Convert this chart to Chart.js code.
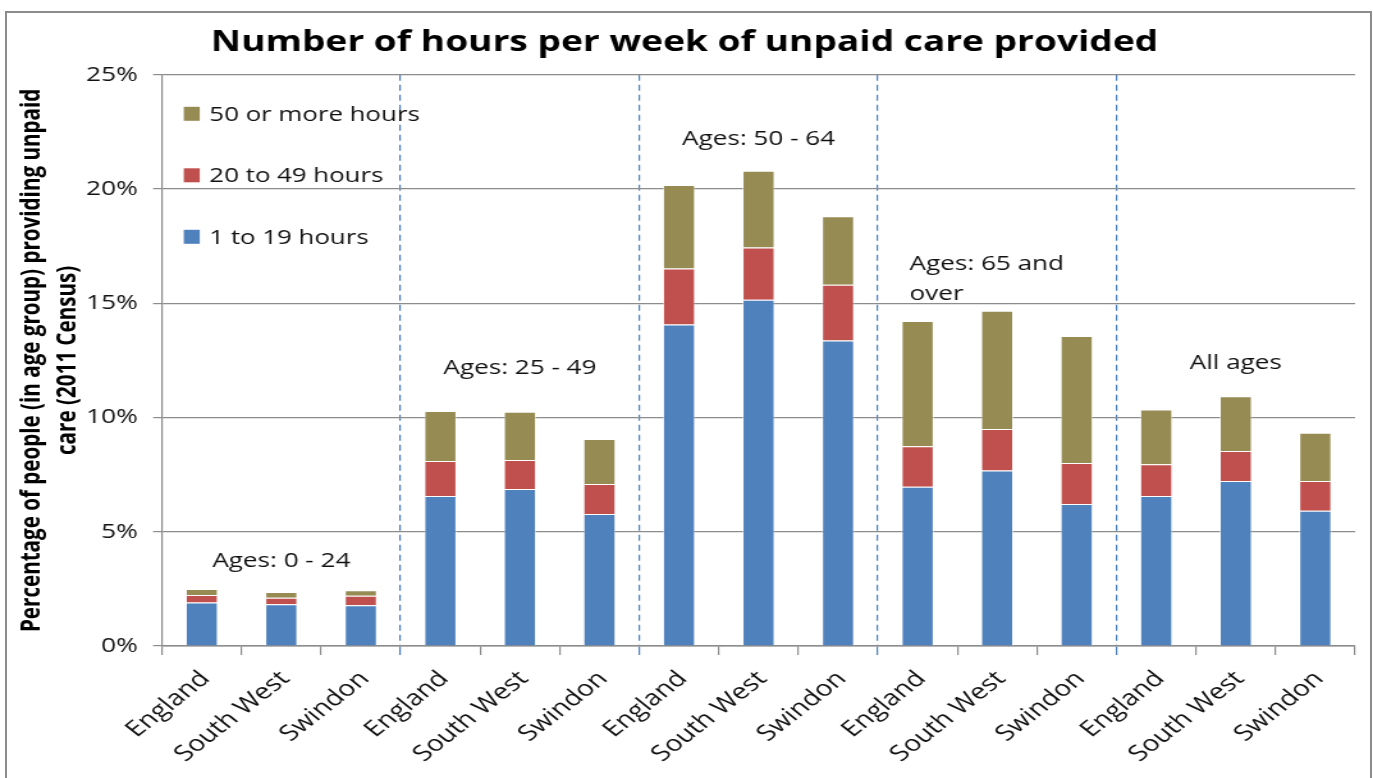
<!DOCTYPE html>
<html>
<head>
<meta charset="utf-8">
<script src="https://cdn.jsdelivr.net/npm/chart.js@4.4.1/dist/chart.umd.min.js"></script>
<style>
  html, body { margin: 0; padding: 0; background: #fff; overflow: hidden; }
  #frame { position: absolute; left: 5px; top: 11px; width: 1367px; height: 790px; border: 2px solid #8c8c8c; box-sizing: border-box; }
  /* the original picture is stretched sideways, so the canvas is drawn narrow and widened by css */
  #chart { position: absolute; left: 0; top: 0; width: 1373px !important; height: 778px !important; }
</style>
</head>
<body>
<div id="frame"></div>
<canvas id="chart" width="1073" height="778"></canvas>
<script>
// categories and values (percent of age group)
const categories = ['England', 'South West', 'Swindon', 'England', 'South West', 'Swindon',
  'England', 'South West', 'Swindon', 'England', 'South West', 'Swindon',
  'England', 'South West', 'Swindon'];
const hours1to19 = [1.90, 1.83, 1.78, 6.57, 6.87, 5.78, 14.07, 15.15, 13.37, 6.97, 7.68, 6.22, 6.57, 7.22, 5.92];
const hours20to49 = [0.33, 0.28, 0.42, 1.53, 1.27, 1.31, 2.45, 2.29, 2.44, 1.77, 1.82, 1.79, 1.39, 1.32, 1.30];
const hours50plus = [0.27, 0.25, 0.24, 2.19, 2.11, 1.97, 3.66, 3.36, 3.00, 5.48, 5.17, 5.56, 2.39, 2.39, 2.11];
const yTicks = [0, 5, 10, 15, 20, 25];
const groupLabels = [['Ages: 0 - 24'], ['Ages: 25 - 49'], ['Ages: 50 - 64'], ['Ages: 65 and', 'over'], ['All ages']];

// where each group caption sits (category index, percent)
const captionX = [1, 4, 7, 9.87, 13];
const captionY = [3.72, 12.17, 22.2, 16.72, 12.39];

const FONT = '"Open Sans", "DejaVu Sans", sans-serif';
const separators = [3, 6, 9, 12];

// group captions and the in-plot legend
const overlay = {
  id: 'overlay',
  afterDatasetsDraw(chart) {
    const { ctx, chartArea, scales: { x, y } } = chart;
    ctx.save();
    ctx.font = '20.4px ' + FONT;
    ctx.textBaseline = 'middle';
    ctx.textAlign = 'left';
    ctx.fillStyle = '#111';
    groupLabels.forEach((lines, g) => {
      const cx = x.getPixelForValue(captionX[g]);
      const w = Math.max(...lines.map(l => ctx.measureText(l).width));
      const ty = y.getPixelForValue(captionY[g]);
      lines.forEach((l, k) => ctx.fillText(l, cx - w / 2, ty + k * 30));
    });
    ctx.font = '20.2px ' + FONT;
    chart.data.datasets.slice().reverse().forEach((ds, k) => {
      const ty = chartArea.top + 39 + k * 61.5;
      ctx.fillStyle = ds.backgroundColor;
      ctx.fillRect(chartArea.left + 17, ty - 7, 12.5, 14);
      ctx.fillStyle = '#111';
      ctx.fillText(ds.label, chartArea.left + 37, ty + 1);
    });
    ctx.restore();
  }
};

new Chart(document.getElementById('chart'), {
  type: 'bar',
  data: {
    labels: categories,
    datasets: [
      { label: '1 to 19 hours', data: hours1to19, backgroundColor: '#4F81BD' },
      { label: '20 to 49 hours', data: hours20to49, backgroundColor: '#C0504D' },
      { label: '50 or more hours', data: hours50plus, backgroundColor: '#968B53' }
    ]
  },
  options: {
    responsive: false,
    animation: false,
    layout: { padding: { left: 11, right: 14, top: 0, bottom: 0 } },
    datasets: { bar: { categoryPercentage: 1, barPercentage: 0.41, borderWidth: 1, borderColor: 'rgba(255,255,255,0.5)' } },
    plugins: {
      legend: { display: false },
      tooltip: { enabled: false },
      title: {
        display: true,
        text: 'Number of hours per week of unpaid care provided',
        font: { family: FONT, size: 29, weight: 'bold' },
        color: '#000',
        padding: { top: 25, bottom: 15 }
      }
    },
    scales: {
      x: {
        stacked: true,
        grid: {
          offset: true,
          color: c => separators.includes(c.index) ? '#4a7ebb' : 'rgba(0,0,0,0)',
          lineWidth: 1.2,
          tickColor: c => separators.includes(c.index) ? '#4a7ebb' : '#8c8c8c',
          tickLength: 9,
          tickWidth: 1.2
        },
        border: { color: '#8c8c8c', width: 1.5, dash: [6, 4] },
        ticks: { minRotation: 45, maxRotation: 45, color: '#111', font: { family: FONT, size: 22 }, padding: 11, labelOffset: 3 },
        afterFit(s) { s.height = 132; }
      },
      y: {
        stacked: true,
        min: 0,
        max: 25,
        afterBuildTicks(s) { s.ticks = yTicks.map(v => ({ value: v })); },
        ticks: { callback: v => v + '%', color: '#111', font: { family: FONT, size: 20.5 }, padding: 12 },
        grid: { color: '#8c8c8c', lineWidth: 1.2, tickLength: 7 },
        border: { color: '#8c8c8c', width: 1.2 },
        title: {
          display: true,
          text: ['Percentage of people (in age group) providing unpaid', 'care (2011 Census)'],
          font: { family: FONT, size: 20.6, weight: 'bold', lineHeight: 1.36 },
          color: '#000',
          padding: 0
        },
        afterFit(s) { s.width = 115.6; }
      }
    }
  },
  plugins: [overlay]
});
</script>
</body>
</html>
